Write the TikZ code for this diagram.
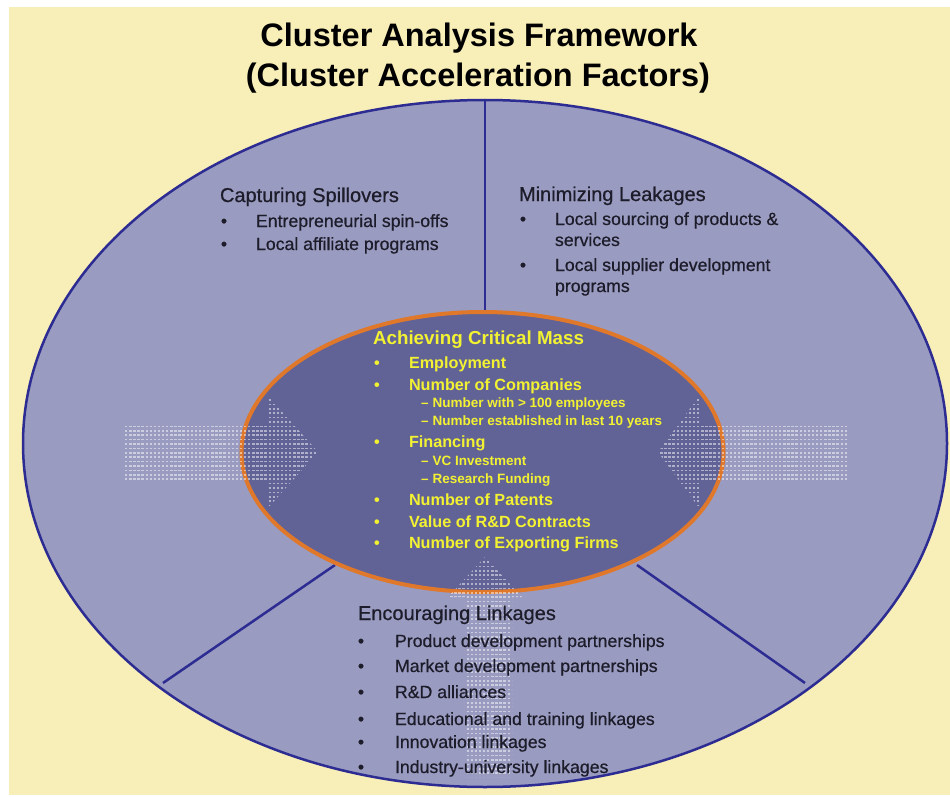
\documentclass[tikz,border=0pt]{standalone}
\usepackage{fontspec}
\setmainfont{Liberation Sans}
\newfontfamily\darkfont[FakeBold=0.6]{Liberation Sans}
\definecolor{bgyellow}{HTML}{F8EEB8}
\definecolor{outerfill}{HTML}{9A9BC0}
\definecolor{innerfill}{HTML}{616296}
\definecolor{rimblue}{HTML}{2C2C92}
\definecolor{rimorange}{HTML}{E0782C}
\definecolor{txt}{HTML}{1C1C2A}
\definecolor{ytxt}{HTML}{F2F232}
\tikzset{
  every node/.style={inner sep=0pt, outer sep=0pt},
  ttl/.style={anchor=base, font=\fontsize{32.5}{38}\selectfont\bfseries, text=black},
  hd/.style={anchor=base west, font=\darkfont\fontsize{20}{24}\selectfont, text=txt},
  it/.style={anchor=base west, font=\darkfont\fontsize{17.7}{21}\selectfont, text=txt},
  bl/.style={anchor=base, font=\darkfont\fontsize{17.7}{21}\selectfont, text=txt},
  yhd/.style={anchor=base west, font=\fontsize{18.8}{22}\selectfont\bfseries, text=ytxt},
  yit/.style={anchor=base west, font=\fontsize{16.2}{19}\selectfont\bfseries, text=ytxt},
  ysub/.style={anchor=base west, font=\fontsize{13.5}{16}\selectfont\bfseries, text=ytxt},
  ybl/.style={anchor=base, font=\fontsize{16.2}{19}\selectfont\bfseries, text=ytxt},
  divline/.style={draw=rimblue, line width=2.5pt},
  dots/.style={draw=white, opacity=0.5, line width=1.7pt, dash pattern=on 2.4pt off 1.7pt},
}
\begin{document}
\begin{tikzpicture}[x=1pt, y=-1pt]
\useasboundingbox (0,0) rectangle (950,797);
\fill[white] (0,0) rectangle (950,797);
\fill[bgyellow] (9,7) rectangle (950,795);

% outer ellipse
\draw[rimblue, line width=2.5pt, fill=outerfill] (485,443.5) ellipse [x radius=462, y radius=343.5];
\coordinate (top) at (485,100);
\coordinate (innertop) at (485,312);
\coordinate (bl) at (163,683);
\coordinate (blin) at (335,565);
\coordinate (br) at (805,683);
\coordinate (brin) at (637,565);
\draw[divline] (top) -- (innertop);
\draw[divline] (bl) -- (blin);
\draw[divline] (br) -- (brin);

% inner ellipse
\draw[rimorange, line width=4pt, fill=innerfill] (482.5,452) ellipse [x radius=241, y radius=140];

% dotted arrows
\begin{scope}
\clip (125,423) -- (267,423) -- (267,395) -- (318,452) -- (267,509) -- (267,481) -- (125,481) -- cycle;
\foreach \yy in {395.6,400,...,512} \draw[dots] (125,\yy) -- (320,\yy);
\end{scope}
\begin{scope}
\clip (848,423) -- (700,423) -- (700,395) -- (658,452) -- (700,509) -- (700,481) -- (848,481) -- cycle;
\foreach \yy in {395.6,400,...,512} \draw[dots] (656,\yy) -- (850,\yy);
\end{scope}
\begin{scope}
\clip (485,557) -- (522,597) -- (512,597) -- (512,777) -- (466,777) -- (466,597) -- (448,597) -- cycle;
\foreach \yy in {557.6,562,...,780} \draw[dots] (446,\yy) -- (524,\yy);
\end{scope}

% title
\node[ttl] (t1) at (479,47) {Cluster Analysis Framework};
\node[ttl] (t2) at (478,87) {(Cluster Acceleration Factors)};

% capturing spillovers
\node[hd] (cs) at (220,202) {Capturing Spillovers};
\node[bl] (csb1) at (224,227) {•};
\node[it] (cs1) at (256,227) {Entrepreneurial spin-offs};
\node[bl] (csb2) at (224,250) {•};
\node[it] (cs2) at (256,250) {Local affiliate programs};

% minimizing leakages
\node[hd] (ml) at (519,201) {Minimizing Leakages};
\node[bl] (mlb1) at (523,225) {•};
\node[it] (ml1) at (555,225) {Local sourcing of products \&};
\node[it] (ml1b) at (555,246) {services};
\node[bl] (mlb2) at (523,271) {•};
\node[it] (ml2) at (555,271) {Local supplier development};
\node[it] (ml2b) at (555,292) {programs};

% achieving critical mass
\node[yhd] (cm) at (373,344) {Achieving Critical Mass};
\node[ybl] (cmb1) at (377,368) {•};
\node[yit] (cm1) at (409,368) {Employment};
\node[ybl] (cmb2) at (377,390) {•};
\node[yit] (cm2) at (409,390) {Number of Companies};
\node[ysub] (cm2a) at (421,407) {–\hspace{4pt}Number with > 100 employees};
\node[ysub] (cm2b) at (421,425) {–\hspace{4pt}Number established in last 10 years};
\node[ybl] (cmb3) at (377,447) {•};
\node[yit] (cm3) at (409,447) {Financing};
\node[ysub] (cm3a) at (421,465) {–\hspace{4pt}VC Investment};
\node[ysub] (cm3b) at (421,483) {–\hspace{4pt}Research Funding};
\node[ybl] (cmb4) at (377,505) {•};
\node[yit] (cm4) at (409,505) {Number of Patents};
\node[ybl] (cmb5) at (377,527) {•};
\node[yit] (cm5) at (409,527) {Value of R\&D Contracts};
\node[ybl] (cmb6) at (377,548) {•};
\node[yit] (cm6) at (409,548) {Number of Exporting Firms};

% encouraging linkages
\node[hd] (el) at (358,620) {Encouraging Linkages};
\node[bl] (elb1) at (361,647) {•};
\node[it] (el1) at (395,647) {Product development partnerships};
\node[bl] (elb2) at (361,672) {•};
\node[it] (el2) at (395,672) {Market development partnerships};
\node[bl] (elb3) at (361,698) {•};
\node[it] (el3) at (395,698) {R\&D alliances};
\node[bl] (elb4) at (361,725) {•};
\node[it] (el4) at (395,725) {Educational and training linkages};
\node[bl] (elb5) at (361,748) {•};
\node[it] (el5) at (395,748) {Innovation linkages};
\node[bl] (elb6) at (361,773) {•};
\node[it] (el6) at (395,773) {Industry-university linkages};
\end{tikzpicture}
\end{document}
